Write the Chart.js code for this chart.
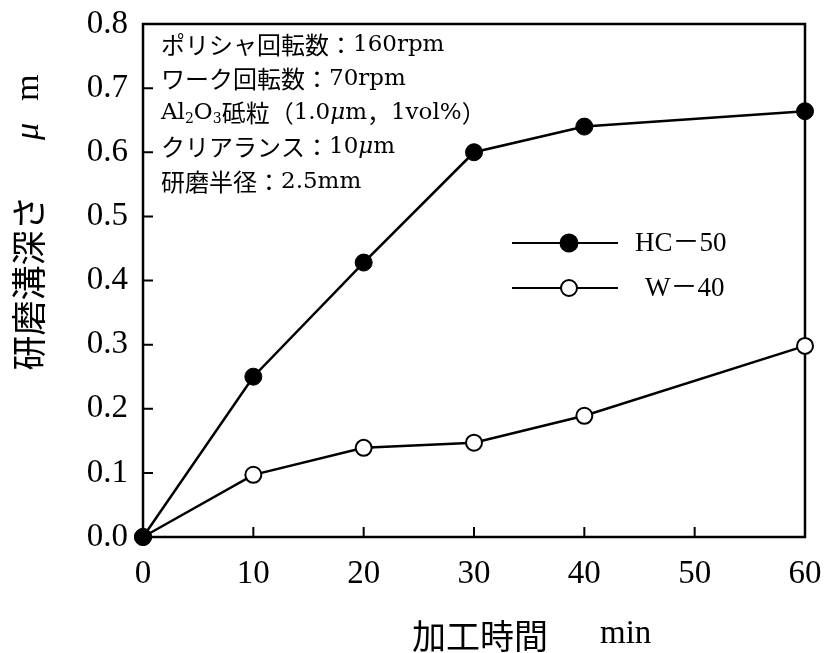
<!DOCTYPE html>
<html>
<head>
<meta charset="utf-8">
<script src="https://cdn.jsdelivr.net/npm/chart.js@4.4.1/dist/chart.umd.min.js"></script>
<style>
  html, body { margin: 0; padding: 0; background: #fff; }
  #c { display: block; }
</style>
</head>
<body>
<canvas id="c" width="828" height="653"></canvas>
<script>
// 加工時間 (min)
const times = [0, 10, 20, 30, 40, 60];
// 研磨溝深さ (μm)
const hc50 = [0, 0.25, 0.428, 0.60, 0.64, 0.664];
const w40 = [0, 0.097, 0.139, 0.147, 0.189, 0.298];

const xTicks = [0, 10, 20, 30, 40, 50, 60];
const yTicks = [0, 0.1, 0.2, 0.3, 0.4, 0.5, 0.6, 0.7, 0.8];

const seriesNames = ['HC－50', 'W－40'];

const conditions = [
  [['ポリシャ回転数：', 'jp'], ['160rpm', 'lat']],
  [['ワーク回転数：', 'jp'], ['70rpm', 'lat']],
  [['Al', 'lat'], ['2', 'sub'], ['O', 'lat'], ['3', 'sub'], ['砥粒（', 'jp'], ['1.0', 'lat'], ['μ', 'mu'], ['m', 'lat'], ['，', 'jp'], ['1vol%', 'lat'], ['）', 'jp']],
  [['クリアランス：', 'jp'], ['10', 'lat'], ['μ', 'mu'], ['m', 'lat']],
  [['研磨半径：', 'jp'], ['2.5mm', 'lat']]
];

const JP = '"Noto Sans CJK JP"';
const SERIF = '"Liberation Serif", "Noto Sans CJK JP"';

function pts(ys) {
  return times.map((t, i) => ({ x: t, y: ys[i] }));
}

const runFonts = {
  jp: '24px ' + JP,
  lat: '23px "DejaVu Serif"',
  mu: 'italic 23px "DejaVu Serif"',
  sub: '14px "DejaVu Serif"'
};

function drawRuns(ctx, runs, x, y) {
  runs.forEach(([t, kind]) => {
    ctx.font = runFonts[kind];
    ctx.fillText(t, x, kind === 'sub' ? y + 6 : y);
    x += ctx.measureText(t).width;
  });
}

function drawMarker(ctx, x, y, filled) {
  ctx.beginPath();
  ctx.arc(x, y, filled ? 8.5 : 8, 0, Math.PI * 2);
  ctx.fillStyle = filled ? '#000' : '#fff';
  ctx.fill();
  ctx.lineWidth = 2;
  ctx.strokeStyle = '#000';
  ctx.stroke();
}

// 軸の余白は layout.padding だけで決める
function noPad(s) {
  s.paddingTop = 0;
  s.paddingBottom = 0;
  s.paddingLeft = 0;
  s.paddingRight = 0;
}

const framePlugin = {
  id: 'frame',
  beforeDatasetsDraw(chart) {
    const { ctx, chartArea: a, scales } = chart;
    ctx.save();
    ctx.strokeStyle = '#000';
    ctx.lineWidth = 2.5;
    ctx.strokeRect(a.left, a.top, a.right - a.left, a.bottom - a.top);
    ctx.lineWidth = 2;
    ctx.beginPath();
    xTicks.slice(1, -1).forEach(v => {
      const px = scales.x.getPixelForValue(v);
      ctx.moveTo(px, a.bottom);
      ctx.lineTo(px, a.bottom - 10);
    });
    yTicks.slice(1, -1).forEach(v => {
      const py = scales.y.getPixelForValue(v);
      ctx.moveTo(a.left, py);
      ctx.lineTo(a.left + 10, py);
    });
    ctx.stroke();
    ctx.restore();
  },
  afterDraw(chart) {
    const { ctx } = chart;
    ctx.save();
    ctx.fillStyle = '#000';
    ctx.textBaseline = 'middle';

    // 条件
    const rowsY = [45, 79, 113, 147, 182];
    conditions.forEach((runs, i) => drawRuns(ctx, runs, 161, rowsY[i]));

    // 凡例
    [[243, true], [288, false]].forEach(([ly, filled], i) => {
      ctx.strokeStyle = '#000';
      ctx.lineWidth = 2;
      ctx.beginPath();
      ctx.moveTo(512, ly);
      ctx.lineTo(618, ly);
      ctx.stroke();
      drawMarker(ctx, 569, ly, filled);
      ctx.fillStyle = '#000';
      ctx.font = '27px ' + SERIF;
      ctx.fillText(seriesNames[i], i === 0 ? 635 : 645, ly + 1);
    });

    // 横軸タイトル
    ctx.font = '34px ' + JP;
    ctx.fillText('加工時間', 412, 636);
    ctx.font = '33px "Liberation Serif"';
    ctx.fillText('min', 600, 634);

    // 縦軸タイトル
    ctx.translate(29, 283);
    ctx.rotate(-Math.PI / 2);
    ctx.textAlign = 'center';
    ctx.font = '35px ' + JP;
    ctx.fillText('研磨溝深さ', 0, 0);
    ctx.textAlign = 'left';
    ctx.font = 'italic 34px "Liberation Serif"';
    ctx.fillText('μ', 143, 0);
    ctx.font = '34px "Liberation Serif"';
    ctx.fillText('m', 182, 0);
    ctx.restore();
  }
};

new Chart(document.getElementById('c'), {
  type: 'line',
  data: {
    datasets: [
      {
        label: seriesNames[0],
        data: pts(hc50),
        borderColor: '#000',
        borderWidth: 2.5,
        pointRadius: 8.5,
        pointBackgroundColor: '#000',
        pointBorderColor: '#000',
        pointBorderWidth: 1,
        tension: 0,
        clip: false
      },
      {
        label: seriesNames[1],
        data: pts(w40),
        borderColor: '#000',
        borderWidth: 2.5,
        pointRadius: 8,
        pointBackgroundColor: '#fff',
        pointBorderColor: '#000',
        pointBorderWidth: 2,
        tension: 0,
        clip: false
      }
    ]
  },
  options: {
    responsive: false,
    animation: false,
    devicePixelRatio: 1,
    layout: { padding: { top: 24, right: 23, left: 0, bottom: 0 } },
    plugins: {
      legend: { display: false },
      tooltip: { enabled: false }
    },
    scales: {
      x: {
        type: 'linear',
        min: 0,
        max: 60,
        afterBuildTicks: s => { s.ticks = xTicks.map(v => ({ value: v })); },
        afterFit: s => { s.height = 116; noPad(s); },
        grid: { display: false, drawTicks: false },
        border: { display: false },
        ticks: {
          color: '#000',
          padding: 18,
          font: { family: 'Liberation Serif', size: 33 }
        }
      },
      y: {
        type: 'linear',
        min: 0,
        max: 0.8,
        afterBuildTicks: s => { s.ticks = yTicks.map(v => ({ value: v })); },
        afterFit: s => { s.width = 143; noPad(s); },
        grid: { display: false, drawTicks: false },
        border: { display: false },
        ticks: {
          color: '#000',
          padding: 15,
          font: { family: 'Liberation Serif', size: 33 },
          callback: v => v.toFixed(1)
        }
      }
    }
  },
  plugins: [framePlugin]
});
</script>
</body>
</html>
